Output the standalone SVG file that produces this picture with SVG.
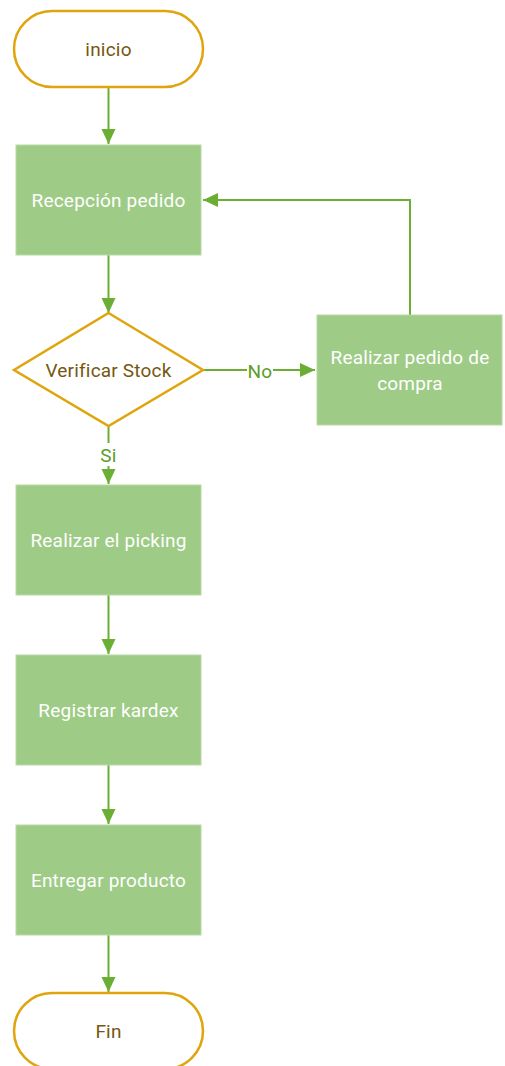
<svg xmlns="http://www.w3.org/2000/svg" width="505" height="1066" viewBox="0 0 505 1066">
  <style>
    .term { fill: #ffffff; stroke: #e0a40c; stroke-width: 2.5; }
    .proc { fill: #9ecb86; stroke: #b9d9a6; stroke-width: 1; }
    .dec { fill: #ffffff; stroke: #e0a40c; stroke-width: 2.5; }
    .conn { fill: none; stroke: #6aaf33; stroke-width: 2; }
    .lbl { font-family: "Roboto", "Liberation Sans", sans-serif; font-size: 19px; font-weight: 400; letter-spacing: 0.2px; text-anchor: middle; dominant-baseline: central; }
    .dark { fill: #76570f; }
    .light { fill: #ffffff; }
    .green { fill: #5a9c2a; }
  </style>
  <defs>
    <marker id="arrowL" viewBox="0 0 16 16" markerWidth="16" markerHeight="16" refX="15" refY="8" orient="auto" markerUnits="userSpaceOnUse">
      <path d="M0,1 L15,8 L0,15 z" fill="#6aaf33"/>
    </marker>
  </defs>

  <!-- flow lines -->
  <g id="connectors">
    <line class="conn" x1="108.5" y1="87" x2="108.5" y2="144" marker-end="url(#arrowL)"/>
    <line class="conn" x1="108.5" y1="255" x2="108.5" y2="313" marker-end="url(#arrowL)"/>
    <line class="conn" x1="108.5" y1="426" x2="108.5" y2="443"/>
    <line class="conn" x1="108.5" y1="466" x2="108.5" y2="484" marker-end="url(#arrowL)"/>
    <line class="conn" x1="203" y1="370" x2="247" y2="370"/>
    <line class="conn" x1="273" y1="370" x2="315" y2="370" marker-end="url(#arrowL)"/>
    <polyline class="conn" points="410,315 410,200 203,200" marker-end="url(#arrowL)"/>
    <line class="conn" x1="108.5" y1="595" x2="108.5" y2="654" marker-end="url(#arrowL)"/>
    <line class="conn" x1="108.5" y1="765" x2="108.5" y2="824" marker-end="url(#arrowL)"/>
    <line class="conn" x1="108.5" y1="935" x2="108.5" y2="992" marker-end="url(#arrowL)"/>
    <text class="lbl green" x="108.5" y="455">Si</text>
    <text class="lbl green" x="260" y="371">No</text>
  </g>

  <g id="inicio">
    <rect class="term" x="14" y="11" width="189" height="76" rx="38" ry="38"/>
    <text class="lbl dark" x="108.5" y="49">inicio</text>
  </g>

  <g id="recepcion">
    <rect class="proc" x="16" y="145" width="185" height="110"/>
    <text class="lbl light" x="108.5" y="200">Recepción pedido</text>
  </g>

  <g id="verificar">
    <polygon class="dec" points="108.5,313 203,370 108.5,426 14,370"/>
    <text class="lbl dark" x="108.5" y="370">Verificar Stock</text>
  </g>

  <g id="pedido-compra">
    <rect class="proc" x="317" y="315" width="185" height="110"/>
    <text class="lbl light" x="410" y="357">Realizar pedido de</text>
    <text class="lbl light" x="410" y="383">compra</text>
  </g>

  <g id="picking">
    <rect class="proc" x="16" y="485" width="185" height="110"/>
    <text class="lbl light" x="108.5" y="540">Realizar el picking</text>
  </g>

  <g id="kardex">
    <rect class="proc" x="16" y="655" width="185" height="110"/>
    <text class="lbl light" x="108.5" y="710">Registrar kardex</text>
  </g>

  <g id="entregar">
    <rect class="proc" x="16" y="825" width="185" height="110"/>
    <text class="lbl light" x="108.5" y="880">Entregar producto</text>
  </g>

  <g id="fin">
    <rect class="term" x="14" y="993" width="189" height="76" rx="38" ry="38"/>
    <text class="lbl dark" x="108.5" y="1031">Fin</text>
  </g>
</svg>
